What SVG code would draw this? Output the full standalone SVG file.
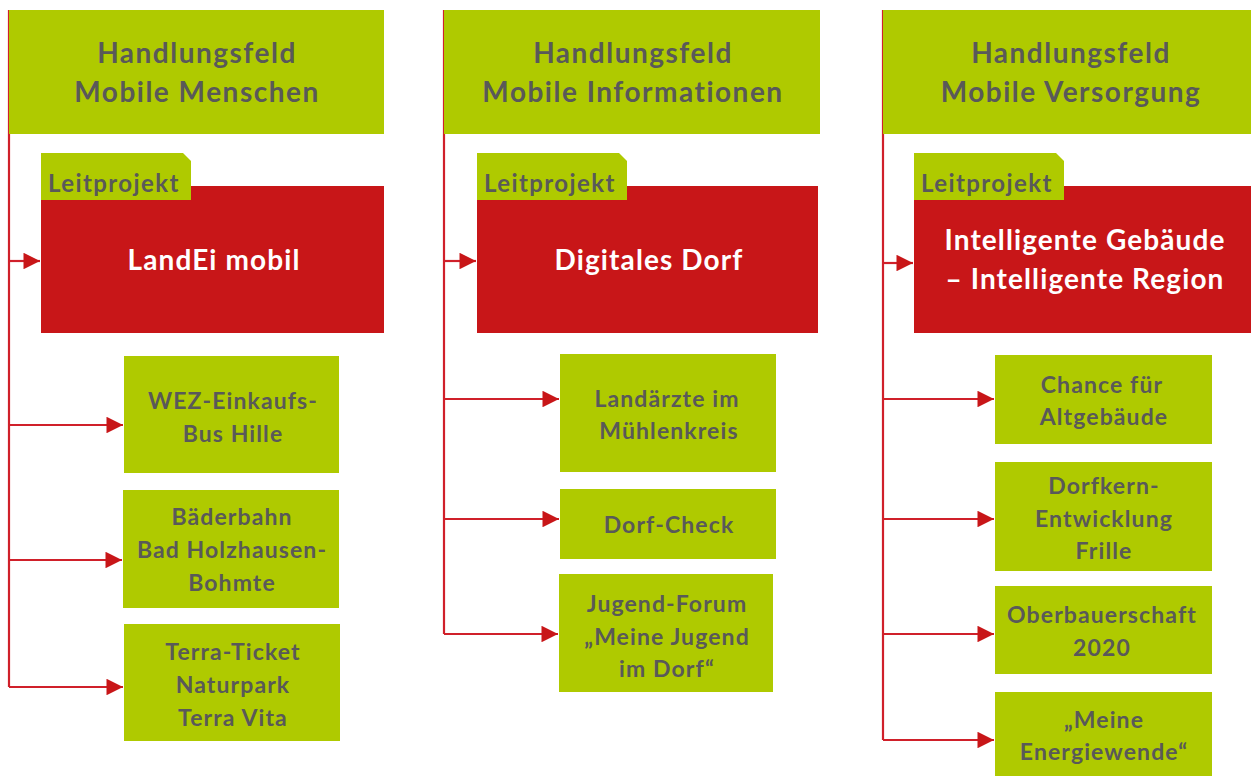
<svg xmlns="http://www.w3.org/2000/svg" width="1251" height="776" viewBox="0 0 1251 776">
<defs>
<style>
.g{fill:#AFCA00}
.r{fill:#C81618}
.t{font-family:Lato,"Open Sans","Liberation Sans",sans-serif;font-weight:700;fill:#595959;text-anchor:middle}
.h{font-size:28px;letter-spacing:1.5px}
.lp{font-size:24px;letter-spacing:1.4px;text-anchor:start}
.w{fill:#FFFFFF;font-size:28px;letter-spacing:1.1px}
.s{font-size:23px;letter-spacing:1.1px}
.ln{fill:none;stroke:#D0202A;stroke-width:2.2}
</style>
<marker id="ah" viewBox="0 0 10 10" refX="10" refY="5" markerWidth="7.7" markerHeight="7.5" orient="auto" markerUnits="strokeWidth">
<path d="M0,0 L10,5 L0,10 Z" fill="#C81618"/>
</marker>
</defs>
<rect width="1251" height="776" fill="#FFFFFF"/>

<g id="connectors">
<path class="ln" d="M9,10 V687"/>
<path class="ln" d="M9,261 H40" marker-end="url(#ah)"/>
<path class="ln" d="M9,425 H123" marker-end="url(#ah)"/>
<path class="ln" d="M9,560 H122" marker-end="url(#ah)"/>
<path class="ln" d="M9,687 H123" marker-end="url(#ah)"/>

<path class="ln" d="M444,10 V634"/>
<path class="ln" d="M444,261 H476" marker-end="url(#ah)"/>
<path class="ln" d="M444,399 H559" marker-end="url(#ah)"/>
<path class="ln" d="M444,519 H559" marker-end="url(#ah)"/>
<path class="ln" d="M444,634 H558" marker-end="url(#ah)"/>

<path class="ln" d="M883,10 V740"/>
<path class="ln" d="M883,263 H913" marker-end="url(#ah)"/>
<path class="ln" d="M883,399 H994" marker-end="url(#ah)"/>
<path class="ln" d="M883,519 H994" marker-end="url(#ah)"/>
<path class="ln" d="M883,634 H994" marker-end="url(#ah)"/>
<path class="ln" d="M883,740 H994" marker-end="url(#ah)"/>
</g>

<g id="hf1">
<rect class="g" x="9" y="10" width="375" height="124"/>
<text class="t h" x="197" y="63">Handlungsfeld</text>
<text class="t h" x="197" y="102">Mobile Menschen</text>
</g>
<g id="lp1">
<path class="g" d="M41,153 H183 L191,161 V200 H41 Z"/>
<rect class="r" x="41" y="186" width="343" height="147"/>
<path class="g" d="M41,186 H191 V200 H41 Z"/>
<text class="t lp" x="48" y="192">Leitprojekt</text>
<text class="t w" x="214" y="270">LandEi mobil</text>
</g>
<g id="p11">
<rect class="g" x="124" y="356" width="215" height="117"/>
<text class="t s" x="233" y="409">WEZ-Einkaufs-</text>
<text class="t s" x="233" y="442">Bus Hille</text>
</g>
<g id="p12">
<rect class="g" x="123" y="490" width="216" height="118"/>
<text class="t s" x="232" y="525">Bäderbahn</text>
<text class="t s" x="232" y="558">Bad Holzhausen-</text>
<text class="t s" x="232" y="591">Bohmte</text>
</g>
<g id="p13">
<rect class="g" x="124" y="624" width="216" height="117"/>
<text class="t s" x="233" y="660">Terra-Ticket</text>
<text class="t s" x="233" y="693">Naturpark</text>
<text class="t s" x="233" y="726">Terra Vita</text>
</g>

<g id="hf2">
<rect class="g" x="444" y="10" width="376" height="124"/>
<text class="t h" x="633" y="63">Handlungsfeld</text>
<text class="t h" x="633" y="102">Mobile Informationen</text>
</g>
<g id="lp2">
<path class="g" d="M477,153 H619 L627,161 V200 H477 Z"/>
<rect class="r" x="477" y="186" width="341" height="147"/>
<path class="g" d="M477,186 H627 V200 H477 Z"/>
<text class="t lp" x="484" y="192">Leitprojekt</text>
<text class="t w" x="649" y="270">Digitales Dorf</text>
</g>
<g id="p21">
<rect class="g" x="560" y="354" width="216" height="118"/>
<text class="t s" x="667" y="407">Landärzte im</text>
<text class="t s" x="669" y="439">Mühlenkreis</text>
</g>
<g id="p22">
<rect class="g" x="560" y="489" width="216" height="70"/>
<text class="t s" x="669" y="533">Dorf-Check</text>
</g>
<g id="p23">
<rect class="g" x="559" y="574" width="214" height="118"/>
<text class="t s" x="667" y="612">Jugend-Forum</text>
<text class="t s" x="667" y="645">„Meine Jugend</text>
<text class="t s" x="667" y="677">im Dorf“</text>
</g>

<g id="hf3">
<rect class="g" x="883" y="10" width="368" height="124"/>
<text class="t h" x="1071" y="63">Handlungsfeld</text>
<text class="t h" x="1071" y="102">Mobile Versorgung</text>
</g>
<g id="lp3">
<path class="g" d="M914,153 H1056 L1064,161 V200 H914 Z"/>
<rect class="r" x="914" y="186" width="337" height="147"/>
<path class="g" d="M914,186 H1064 V200 H914 Z"/>
<text class="t lp" x="921" y="192">Leitprojekt</text>
<text class="t w" x="1085" y="250">Intelligente Gebäude</text>
<text class="t w" x="1085" y="289">– Intelligente Region</text>
</g>
<g id="p31">
<rect class="g" x="995" y="355" width="217" height="89"/>
<text class="t s" x="1102" y="393">Chance für</text>
<text class="t s" x="1104" y="425">Altgebäude</text>
</g>
<g id="p32">
<rect class="g" x="995" y="462" width="217" height="109"/>
<text class="t s" x="1104" y="494">Dorfkern-</text>
<text class="t s" x="1104" y="527">Entwicklung</text>
<text class="t s" x="1104" y="559">Frille</text>
</g>
<g id="p33">
<rect class="g" x="995" y="586" width="217" height="88"/>
<text class="t s" x="1102" y="623">Oberbauerschaft</text>
<text class="t s" x="1102" y="656">2020</text>
</g>
<g id="p34">
<rect class="g" x="995" y="692" width="217" height="84"/>
<text class="t s" x="1104" y="728">„Meine</text>
<text class="t s" x="1104" y="760">Energiewende“</text>
</g>
</svg>
